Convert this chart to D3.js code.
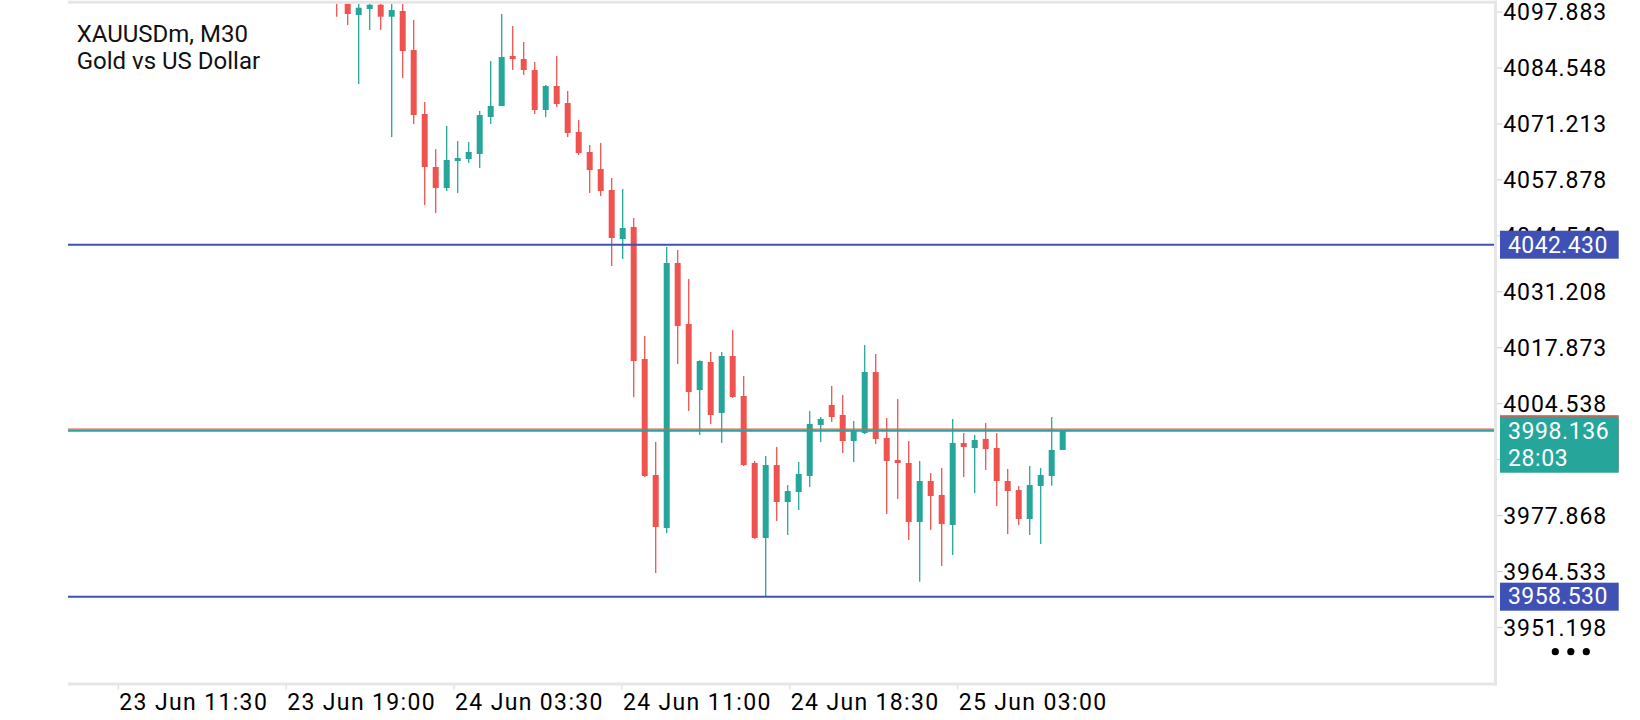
<!DOCTYPE html>
<html><head><meta charset="utf-8">
<script src="https://cdn.jsdelivr.net/npm/d3@7"></script>
<style>html,body{margin:0;padding:0;background:#fff;overflow:hidden}svg{display:block}</style>
</head><body><svg id="chart" width="1640" height="720"></svg>
<script>
// ---- data ----
const titleLines = ["XAUUSDm, M30", "Gold vs US Dollar"];
const opens  = [4103.14,4101.95,4097.18,4098.61,4099.63,4096.77,4098.13,4088.84,4073.58,4060.95,
                4055.94,4062.38,4062.86,4064.05,4072.87,4075.49,4087.41,4086.69,4084.07,4074.54,
                4080.26,4076.20,4069.29,4064.53,4060.47,4055.47,4043.79,4046.65,4015.19,3987.54,
                3974.90,4038.07,4023.53,4007.80,4014.47,4002.32,4015.90,4006.37,3990.40,3972.52,
                3989.92,3981.10,3983.49,3987.30,3999.46,4004.22,4001.84,3995.64,3997.55,4012.09,
                3996.36,3991.11,3990.40,3976.34,3986.11,3982.77,3975.62,3995.17,3993.97,3996.12,
                3993.97,3986.11,3983.96,3977.05,3984.92,3987.30,3993.50];
const highs  = [4105.52,4103.14,4101.95,4101.47,4101.47,4101.47,4101.47,4095.99,4076.44,4065.24,
                4070.72,4067.15,4066.91,4074.30,4086.21,4097.42,4094.56,4090.74,4085.98,4080.49,
                4087.41,4079.06,4072.15,4066.19,4066.67,4058.33,4055.71,4048.79,4020.67,3995.40,
                4041.88,4041.17,4034.25,4014.90,4016.86,4016.86,4022.10,4011.13,3990.87,3992.07,
                3994.21,3985.15,3990.64,4002.79,4001.36,4008.75,4006.61,4000.41,4018.52,4016.38,
                4001.12,4005.65,3995.64,3990.87,3988.01,3989.21,4000.89,3997.55,3997.07,3999.93,
                3997.55,3988.97,3984.92,3989.68,3989.21,4001.36,3998.20];
const lows   = [4096.77,4094.80,4080.73,4093.60,4093.60,4068.10,4082.16,4071.20,4051.89,4049.99,
                4055.23,4054.75,4061.90,4060.71,4071.20,4075.49,4084.07,4082.88,4073.58,4072.87,
                4075.25,4068.10,4063.81,4054.75,4054.04,4037.35,4039.02,4006.13,3987.06,3964.18,
                3973.71,4013.99,4002.79,3997.07,3999.69,3995.17,4005.89,3989.68,3972.30,3958.53,
                3976.57,3973.24,3979.20,3984.68,3995.40,4000.17,3992.78,3990.64,3997.30,3994.93,
                3978.24,3981.82,3972.05,3962.11,3974.43,3965.85,3968.47,3987.06,3983.25,3988.73,
                3980.15,3973.48,3975.62,3973.24,3971.09,3985.00,3993.50];
const closes = [4100.99,4097.42,4098.92,4099.63,4096.77,4098.37,4088.60,4073.34,4060.95,4055.94,
                4062.62,4063.09,4064.53,4073.34,4075.49,4087.17,4086.69,4084.07,4074.54,4080.26,
                4075.97,4069.05,4064.29,4060.23,4055.23,4044.03,4046.41,4014.71,3987.30,3975.14,
                4038.07,4023.05,4007.32,4014.71,4001.84,4015.90,4006.13,3989.92,3972.52,3989.92,
                3981.10,3983.72,3987.78,3999.69,4000.89,4001.36,3995.64,3998.03,4012.09,3996.12,
                3990.87,3990.40,3976.34,3986.11,3982.53,3975.86,3995.17,3994.21,3995.88,3993.73,
                3986.11,3983.72,3977.05,3985.15,3987.54,3993.50,3998.136];
const timeLabels = ["23 Jun 11:30","23 Jun 19:00","24 Jun 03:30","24 Jun 11:00","24 Jun 18:30","25 Jun 03:00"];
const priceTicks = [4097.883,4084.548,4071.213,4057.878,4044.543,4031.208,4017.873,4004.538,3991.203,3977.868,3964.533,3951.198];
const levelLines = [4042.430, 3958.530];
const bidPrice = 3998.136;
const askPrice = 3998.460;
const countdown = "28:03";

// ---- layout ----
const panel = {left:68, right:1495.5, top:2.3, bottom:684};
const TEAL = "#26a69a", RED = "#ef5350", BLUE = "#3f51b5", BORDER = "#e6e6e6";
const FONT = "Roboto, 'Noto Sans', sans-serif";

const svg = d3.select("#chart");
const x = d3.scaleLinear().domain([-24.427, 105.345]).range([panel.left, panel.right]);
const y = d3.scaleLinear().domain([3937.72, 4100.21]).range([panel.bottom, panel.top]);
const tickStartBar = -19.85, tickStepBars = 15.26;

svg.append("rect").attr("width",1640).attr("height",720).attr("fill","#fff");

svg.append("defs").append("clipPath").attr("id","plotClip").append("rect")
  .attr("x", panel.left).attr("y", panel.top + 1.5)
  .attr("width", panel.right - panel.left - 1.5).attr("height", panel.bottom - panel.top - 1.5);

const plot = svg.append("g").attr("clip-path","url(#plotClip)");

const candles = opens.map((o,i)=>({i, o, h:highs[i], l:lows[i], c:closes[i]}));
const bodyW = 6;
const cg = plot.selectAll("g.candle").data(candles).join("g").attr("class","candle");
cg.append("line")
  .attr("x1", d=>x(d.i)).attr("x2", d=>x(d.i))
  .attr("y1", d=>y(d.h)).attr("y2", d=>y(d.l))
  .attr("stroke", d=> d.c>=d.o ? TEAL : RED).attr("stroke-width",1.3);
cg.append("rect")
  .attr("x", d=>x(d.i)-bodyW/2).attr("width", bodyW)
  .attr("y", d=>y(Math.max(d.o,d.c)))
  .attr("height", d=>Math.max(1.2, Math.abs(y(d.o)-y(d.c))))
  .attr("fill", d=> d.c>=d.o ? TEAL : RED);

// level lines
plot.selectAll("line.level").data(levelLines).join("line").attr("class","level")
  .attr("x1", panel.left).attr("x2", panel.right-1.5)
  .attr("y1", d=>y(d)).attr("y2", d=>y(d))
  .attr("stroke", BLUE).attr("stroke-width",2);
// ask / bid lines
plot.append("line").attr("x1",panel.left).attr("x2",panel.right-1.5)
  .attr("y1",y(askPrice)).attr("y2",y(askPrice)).attr("stroke",RED).attr("stroke-width",1.2);
plot.append("line").attr("x1",panel.left).attr("x2",panel.right-1.5)
  .attr("y1",y(bidPrice)+0.3).attr("y2",y(bidPrice)+0.3).attr("stroke",TEAL).attr("stroke-width",2);

// panel borders
svg.append("line").attr("x1",panel.left).attr("x2",panel.right+1.5).attr("y1",panel.top).attr("y2",panel.top)
  .attr("stroke",BORDER).attr("stroke-width",3);
svg.append("line").attr("x1",panel.right).attr("x2",panel.right).attr("y1",0.8).attr("y2",panel.bottom+1.5)
  .attr("stroke",BORDER).attr("stroke-width",3);
svg.append("line").attr("x1",panel.left).attr("x2",panel.right+1.5).attr("y1",panel.bottom).attr("y2",panel.bottom)
  .attr("stroke",BORDER).attr("stroke-width",3);

// title
svg.selectAll("text.title").data(titleLines).join("text").attr("class","title")
  .attr("x",76.7).attr("y",(d,i)=>42.3 + i*27)
  .attr("font-family",FONT).attr("font-size",24).attr("fill","#111").text(d=>d);

// price axis ticks
const pa = svg.append("g");
pa.selectAll("line").data(priceTicks).join("line")
  .attr("x1",panel.right+1.5).attr("x2",panel.right+7)
  .attr("y1",d=>y(d)).attr("y2",d=>y(d)).attr("stroke","#cfcfcf").attr("stroke-width",1);
pa.selectAll("text").data(priceTicks).join("text")
  .attr("x",1503.3).attr("y",d=>y(d)+8.1)
  .attr("font-family",FONT).attr("font-size",23).attr("letter-spacing","0.9px").attr("fill","#000")
  .text(d=>d.toFixed(3));

// level labels
const boxX = 1500, boxW = 118.7;
svg.selectAll("rect.lvl").data(levelLines).join("rect").attr("class","lvl")
  .attr("x",boxX).attr("width",boxW).attr("y",d=>y(d)-14).attr("height",28).attr("fill",BLUE);
svg.selectAll("text.lvl").data(levelLines).join("text").attr("class","lvl")
  .attr("x",1508).attr("y",d=>y(d)+7.8)
  .attr("font-family",FONT).attr("font-size",23).attr("letter-spacing","0.4px").attr("fill","#fff")
  .text(d=>d.toFixed(3));

// ask box (mostly hidden) and bid box
svg.append("rect").attr("x",boxX).attr("width",boxW).attr("y",y(askPrice)-14).attr("height",56).attr("fill",RED);
svg.append("rect").attr("x",boxX).attr("width",boxW).attr("y",y(bidPrice)-13.8).attr("height",56).attr("fill",TEAL);
svg.append("text").attr("x",1508).attr("y",y(bidPrice)+8.5)
  .attr("font-family",FONT).attr("font-size",23).attr("letter-spacing","0.6px").attr("fill","#fff")
  .text(bidPrice.toFixed(3));
svg.append("text").attr("x",1508).attr("y",y(bidPrice)+35.5)
  .attr("font-family",FONT).attr("font-size",23).attr("letter-spacing","0.6px").attr("fill","#fff")
  .text(countdown);

// menu dots
svg.selectAll("circle.dot").data([0,1,2]).join("circle").attr("class","dot")
  .attr("cx",d=>1555.3 + d*15.5).attr("cy",651.7).attr("r",3.6).attr("fill","#000");

// time axis
const ta = svg.append("g");
const tickX = (d,i)=> x(tickStartBar + i*tickStepBars);
ta.selectAll("line").data(timeLabels).join("line")
  .attr("x1",tickX).attr("x2",tickX).attr("y1",panel.bottom+1.5).attr("y2",panel.bottom+5.5)
  .attr("stroke","#dcdcdc").attr("stroke-width",1.2);
ta.selectAll("text").data(timeLabels).join("text")
  .attr("x",(d,i)=>tickX(d,i)+1).attr("y",710)
  .attr("font-family",FONT).attr("font-size",23).attr("letter-spacing","1.35px").attr("fill","#000")
  .text(d=>d);
</script></body></html>
